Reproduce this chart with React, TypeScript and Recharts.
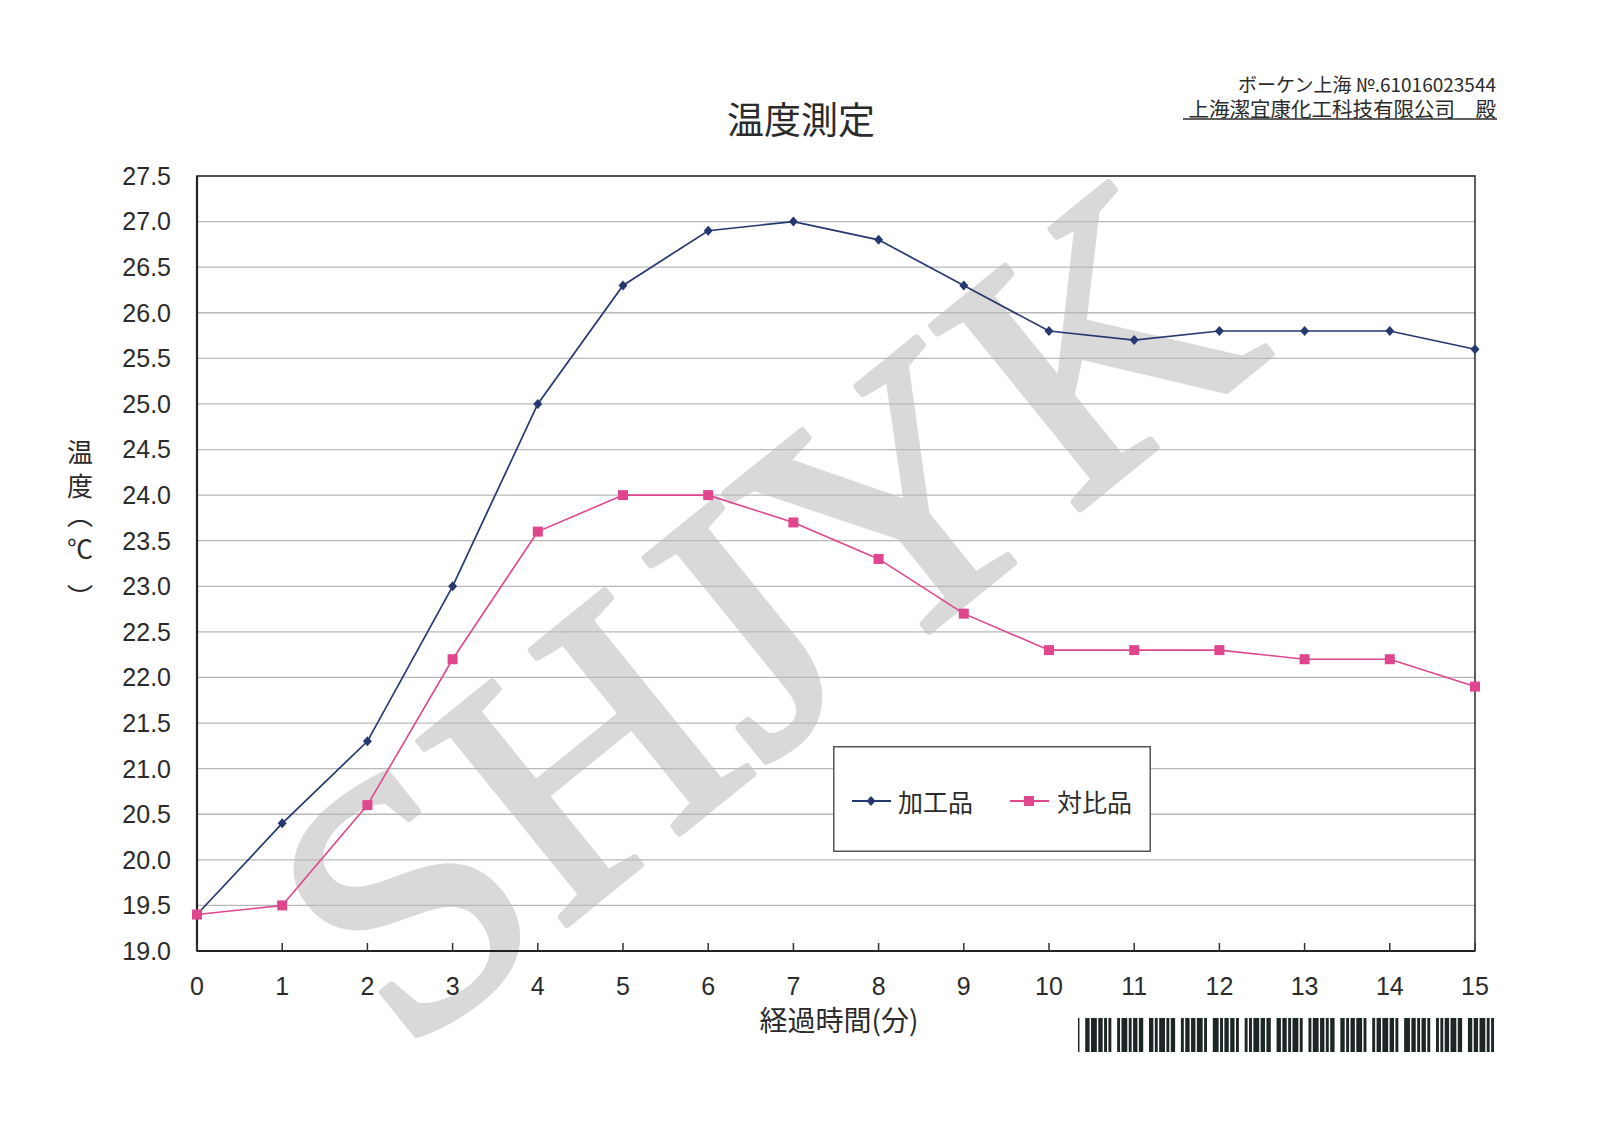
import React from 'react';
import { LineChart, Line, XAxis, YAxis, CartesianGrid, Legend, ReferenceArea } from 'recharts';

// ---- data ----
const minutes = [0, 1, 2, 3, 4, 5, 6, 7, 8, 9, 10, 11, 12, 13, 14, 15];
const processedTemp = [19.4, 20.4, 21.3, 23.0, 25.0, 26.3, 26.9, 27.0, 26.8, 26.3, 25.8, 25.7, 25.8, 25.8, 25.8, 25.6];
const controlTemp = [19.4, 19.5, 20.6, 22.2, 23.6, 24.0, 24.0, 23.7, 23.3, 22.7, 22.3, 22.3, 22.3, 22.2, 22.2, 21.9];
const seriesNames = ['加工品', '対比品'];
const yTicks = [19.0, 19.5, 20.0, 20.5, 21.0, 21.5, 22.0, 22.5, 23.0, 23.5, 24.0, 24.5, 25.0, 25.5, 26.0, 26.5, 27.0, 27.5];
const yAxisTitle = ['温', '度', '︵', '℃', '︶'];
const chartTitle = '温度測定';
const xAxisTitle = '経過時間(分)';
const headerLine1 = 'ボーケン上海 №.61016023544';
const headerLine2 = '上海潔宜康化工科技有限公司　殿';
const watermark = 'SHJYK';
// barcode modules: 1 = dark, 0 = light
const barcodeGroups = [
  '1',
  '111011110111011011',
  '110111101101110111',
  '111011011110110111',
  '110111011101111011',
  '111101101110111011',
  '110110111101110111',
  '111011101101111011',
  '110111101110110111',
  '111011011101111011',
  '110111011110111011',
  '111101110110111011',
  '110110111011110111',
  '111011101111011011',
];

const data = minutes.map((m, i) => ({ minute: m, processed: processedTemp[i], control: controlTemp[i] }));

// ---- layout ----
const W = 1600;
const H = 1131;
const PLOT_LEFT = 197;
const PLOT_RIGHT = 1475;
const PLOT_TOP = 176;
const PLOT_BOTTOM = 951;
const Y_AXIS_W = 60;
const X_AXIS_H = 40;

const NAVY = '#26386f';
const PINK = '#e0468e';
const INK = '#2b2b2b';
const WATERMARK_GRAY = '#d9d9d9';
const NUM_FONT = "'Liberation Sans Narrow', 'Liberation Sans', Arial, sans-serif";
const CJK_FONT = "'Noto Sans CJK JP', 'Noto Sans', sans-serif";

const Diamond = ({ cx, cy, color }: { cx: number; cy: number; color: string }) => (
  <path d={`M${cx},${cy - 5} L${cx + 4.5},${cy} L${cx},${cy + 5} L${cx - 4.5},${cy} Z`} fill={color} />
);
const Square = ({ cx, cy, color }: { cx: number; cy: number; color: string }) => (
  <rect x={cx - 5} y={cy - 5} width={10} height={10} fill={color} />
);

const XTick = (props: any) => {
  const { x, payload } = props;
  return (
    <g>
      <line x1={x} x2={x} y1={PLOT_BOTTOM} y2={PLOT_BOTTOM - 8} stroke="#333" strokeWidth={1.5} />
      <text x={x} y={PLOT_BOTTOM + 35} textAnchor="middle" dominantBaseline="central"
        fontFamily={NUM_FONT} fontSize={25} fill={INK}>
        {payload.value}
      </text>
    </g>
  );
};

const LegendBox = (props: any) => {
  const payload = props.payload || [];
  const items = [
    { lineX: 19, textX: 65 },
    { lineX: 177, textX: 224 },
  ];
  return (
    <svg width={318} height={106} style={{ display: 'block' }}>
      <rect x={0.75} y={0.75} width={316.5} height={104.5} fill="#fff" stroke="#555" strokeWidth={1.5} />
      {payload.map((entry: any, i: number) => {
        const it = items[i];
        if (!it) return null;
        const cy = 55;
        const mx = it.lineX + 19;
        return (
          <g key={entry.value}>
            <line x1={it.lineX} x2={it.lineX + 39} y1={cy} y2={cy} stroke={entry.color} strokeWidth={1.8} />
            {i === 0 ? <Diamond cx={mx} cy={cy} color={entry.color} /> : <Square cx={mx} cy={cy} color={entry.color} />}
            <text x={it.textX} y={cy} dominantBaseline="central" fontFamily={CJK_FONT} fontSize={25} fill={INK}>
              {entry.value}
            </text>
          </g>
        );
      })}
    </svg>
  );
};

const Barcode = ({ x, y, width, height }: { x: number; y: number; width: number; height: number }) => {
  const modules = barcodeGroups.join('0000');
  const mw = width / modules.length;
  const bars: { start: number; len: number }[] = [];
  let i = 0;
  while (i < modules.length) {
    if (modules[i] === '1') {
      let j = i;
      while (j < modules.length && modules[j] === '1') j++;
      bars.push({ start: i, len: j - i });
      i = j;
    } else i++;
  }
  return (
    <g>
      {bars.map((b) => (
        <rect key={b.start} x={x + b.start * mw} y={y} width={b.len * mw} height={height} fill="#1c2626" />
      ))}
    </g>
  );
};

export default function App() {
  const wmX = 764;
  const wmY = 612;
  return (
    <div style={{ position: 'absolute', left: 0, top: 0, width: W, height: H, background: '#fff', overflow: 'hidden' }}>
      {/* page decorations behind the chart */}
      <svg width={W} height={H} style={{ position: 'absolute', left: 0, top: 0 }}>
        <text x={wmX} y={wmY} dy="0.33em" transform={`rotate(-39 ${wmX} ${wmY})`} textAnchor="middle"
          fontFamily="'Liberation Serif', 'DejaVu Serif', serif" fontSize={360}
          fill={WATERMARK_GRAY} stroke={WATERMARK_GRAY} strokeWidth={7} strokeLinejoin="round">
          {watermark}
        </text>
        <text x={801} y={118} textAnchor="middle" dominantBaseline="central" fontFamily={CJK_FONT}
          fontSize={37} fill={INK}>{chartTitle}</text>
        <text x={1496} y={83} textAnchor="end" dominantBaseline="central" fontFamily={CJK_FONT}
          fontSize={19} fill={INK}>{headerLine1}</text>
        <text x={1496} y={108} textAnchor="end" dominantBaseline="central" fontFamily={CJK_FONT}
          fontSize={20.5} fill={INK}>{headerLine2}</text>
        <line x1={1183} x2={1497} y1={119} y2={119} stroke={INK} strokeWidth={1.5} />
        {yAxisTitle.map((ch, i) => (
          <text key={i} x={80} y={[450, 484, 513, 547, 595][i]} textAnchor="middle" dominantBaseline="central"
            fontFamily={CJK_FONT} fontSize={26} fill={INK}>{ch}</text>
        ))}
        <text x={839} y={1019} textAnchor="middle" dominantBaseline="central" fontFamily={CJK_FONT}
          fontSize={28} fill={INK}>{xAxisTitle}</text>
        <Barcode x={1078} y={1018} width={416} height={34} />
      </svg>

      <div style={{ position: 'absolute', left: 0, top: 0 }}>
        <LineChart
          width={W}
          height={H}
          data={data}
          margin={{ top: PLOT_TOP, right: W - PLOT_RIGHT, bottom: H - PLOT_BOTTOM - X_AXIS_H, left: PLOT_LEFT - Y_AXIS_W }}
        >
          <CartesianGrid vertical={false} stroke="#b9b9b9" strokeWidth={1.3} />
          <ReferenceArea x1={0} x2={15} y1={19} y2={27.5} fill="none" stroke="#2a2a2a" strokeWidth={1.5} ifOverflow="extendDomain" />
          <XAxis
            dataKey="minute"
            type="number"
            domain={[0, 15]}
            ticks={minutes}
            interval={0}
            height={X_AXIS_H}
            axisLine={{ stroke: '#222', strokeWidth: 2.2 }}
            tickLine={false}
            tick={<XTick />}
          />
          <YAxis
            type="number"
            domain={[19, 27.5]}
            ticks={yTicks}
            interval={0}
            width={Y_AXIS_W}
            axisLine={{ stroke: '#222', strokeWidth: 2.2 }}
            tickLine={false}
            tickSize={6}
            tickMargin={20}
            tickFormatter={(v: number) => v.toFixed(1)}
            tick={{ fontFamily: NUM_FONT, fontSize: 25, fill: INK }}
          />
          <Legend
            layout="horizontal"
            verticalAlign="middle"
            align="center"
            content={<LegendBox />}
            wrapperStyle={{ position: 'absolute', left: 833, top: 746, width: 318, height: 106 }}
          />
          <Line
            name={seriesNames[0]}
            dataKey="processed"
            type="linear"
            stroke={NAVY}
            strokeWidth={1.7}
            isAnimationActive={false}
            dot={(p: any) => <Diamond key={`d-${p.index}`} cx={p.cx} cy={p.cy} color={NAVY} />}
            activeDot={false}
          />
          <Line
            name={seriesNames[1]}
            dataKey="control"
            type="linear"
            stroke={PINK}
            strokeWidth={1.6}
            isAnimationActive={false}
            dot={(p: any) => <Square key={`s-${p.index}`} cx={p.cx} cy={p.cy} color={PINK} />}
            activeDot={false}
          />
        </LineChart>
      </div>
    </div>
  );
}
